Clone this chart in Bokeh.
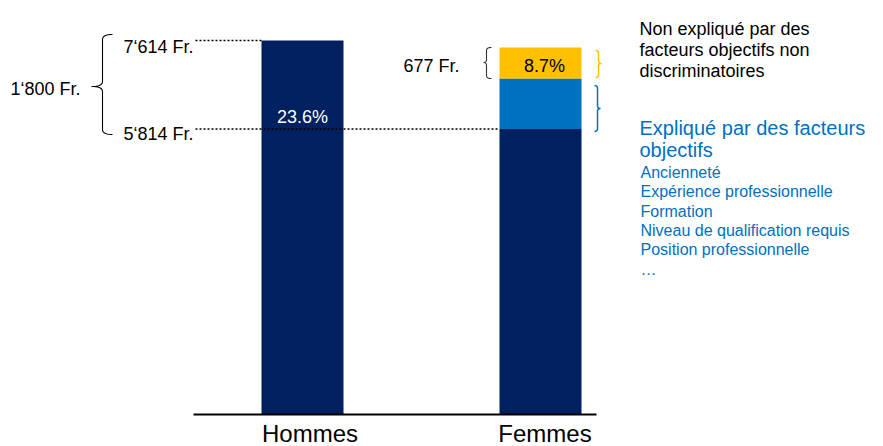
import numpy as np
from bokeh.plotting import figure
from bokeh.models import Range1d, FixedTicker
from bokeh.core.properties import value
from bokeh.embed import file_html
from bokeh.resources import INLINE

# ---------------- data ----------------
categories = ["Hommes", "Femmes"]
cat_pos = [0, 1]
salaire_hommes = 7614          # Fr.
salaire_femmes = 5814          # Fr. (base)
ecart_explique = 1026          # blue segment
ecart_non_explique = 631       # gold segment

label_ecart_total = "1\u2018800 Fr."
label_hommes = "7\u2018614 Fr."
label_femmes = "5\u2018814 Fr."
label_non_explique = "677 Fr."
pct_total = "23.6%"
pct_non_explique = "8.7%"
texte_non_explique = ["Non expliqué par des", "facteurs objectifs non", "discriminatoires"]
texte_explique_titre = ["Expliqué par des facteurs", "objectifs"]
facteurs = ["Ancienneté", "Expérience professionnelle", "Formation",
            "Niveau de qualification requis", "Position professionnelle", "\u2026"]

NAVY, BLUE, GOLD = "#002060", "#0070C0", "#FFC000"
FONT = "Liberation Sans"

# ---------------- layout helpers (canvas pixels -> data) ----------------
W, H = 883, 446
PPX = 238.0                       # px per category step
PPY = 374.0 / salaire_hommes      # px per franc
X0 = -302 / PPX
Y0 = -(H - 414) / PPY


def dx(px):
    return X0 + px / PPX


def dy(py):
    return (414 - py) / PPY


BW = 82 / PPX

p = figure(frame_width=W, frame_height=H,
           x_range=Range1d(X0, X0 + W / PPX), y_range=Range1d(Y0, Y0 + H / PPY),
           output_backend="svg", toolbar_location=None, y_axis_location=None,
           min_border=0, outline_line_color=None)
p.grid.visible = False
p.background_fill_color = "white"

# bars
p.vbar(x=[cat_pos[0]], bottom=[0], top=[salaire_hommes], width=BW,
       fill_color=NAVY, line_color=None)
f_bottoms = [0, salaire_femmes, salaire_femmes + ecart_explique]
f_tops = [salaire_femmes, salaire_femmes + ecart_explique,
          salaire_femmes + ecart_explique + ecart_non_explique]
p.vbar(x=[cat_pos[1]] * 3, bottom=f_bottoms, top=f_tops, width=BW,
       fill_color=[NAVY, BLUE, GOLD], line_color=None)

# axis (labels sit slightly right of the bar centres, as in the original)
label_ticks = [round(cat_pos[0] + 7.5 / PPX, 4), round(cat_pos[1] + 4.5 / PPX, 4)]
ax = p.xaxis[0]
ax.fixed_location = 0
ax.bounds = (dx(193), dx(596))
ax.ticker = FixedTicker(ticks=label_ticks)
ax.major_label_overrides = {label_ticks[i]: categories[i] for i in range(2)}
ax.axis_line_width = 2
ax.axis_line_color = "black"
ax.major_tick_line_color = None
ax.minor_tick_line_color = None
ax.major_tick_out = 0
ax.major_tick_in = 0
ax.major_label_standoff = 5
ax.major_label_text_font = FONT
ax.major_label_text_font_size = "24px"
ax.major_label_text_color = "black"

# dotted reference lines
p.segment(x0=[dx(195)], y0=[salaire_hommes], x1=[cat_pos[0] - BW / 2], y1=[salaire_hommes],
          line_color="black", line_width=1.5, line_dash="2 2")
p.segment(x0=[dx(195)], y0=[salaire_femmes], x1=[cat_pos[1] - BW / 2], y1=[salaire_femmes],
          line_color="black", line_width=1.5, line_dash="2 2")


def txt(px, py, s, size, color="black", align="left"):
    p.text(x=[dx(px)], y=[dy(py)], text=[s], text_font=value(FONT),
           text_font_size=value(size), text_color=color, text_align=align,
           text_baseline="alphabetic")


txt(10, 88, label_ecart_total, "18px")
txt(123, 46, label_hommes, "18px")
txt(123, 133, label_femmes, "18px")
txt(302, 116, pct_total, "18px", color="white", align="center")
txt(403, 65, label_non_explique, "18px")
txt(544, 65, pct_non_explique, "18px", align="center")

for i, s in enumerate(texte_non_explique):
    txt(639, 28 + i * 21.3, s, "18px")
for i, s in enumerate(texte_explique_titre):
    txt(639, 127 + i * 22, s, "20px", color=BLUE)
for i, s in enumerate(facteurs):
    txt(640, 172 + i * 19.3, s, "16px", color=BLUE)


# braces
def quad(p0, p1, p2, n=10):
    t = np.linspace(0, 1, n)[:, None]
    a, b, c = np.array(p0), np.array(p1), np.array(p2)
    return (1 - t) ** 2 * a + 2 * (1 - t) * t * b + t ** 2 * c


def brace(x_end, x_line, x_tip, y_top, y_bot, y_mid, r, color, lw):
    pts = np.vstack([
        quad((x_end, y_top), (x_line, y_top), (x_line, y_top + r)),
        quad((x_line, y_mid - r), (x_line, y_mid), (x_tip, y_mid)),
        quad((x_tip, y_mid), (x_line, y_mid), (x_line, y_mid + r)),
        quad((x_line, y_bot - r), (x_line, y_bot), (x_end, y_bot)),
    ])
    p.line([dx(v) for v in pts[:, 0]], [dy(v) for v in pts[:, 1]],
           line_color=color, line_width=lw)


brace(112, 102, 91, 34, 134, 86, 5, "black", 1.1)
brace(491, 486, 483, 47, 78, 62, 3, "#333333", 1.1)
brace(595, 598, 601, 50, 77, 63, 3, GOLD, 1.5)
brace(594, 597, 600, 85, 131, 108, 3, BLUE, 1.5)

open("out.html", "w").write(file_html(p, INLINE))
